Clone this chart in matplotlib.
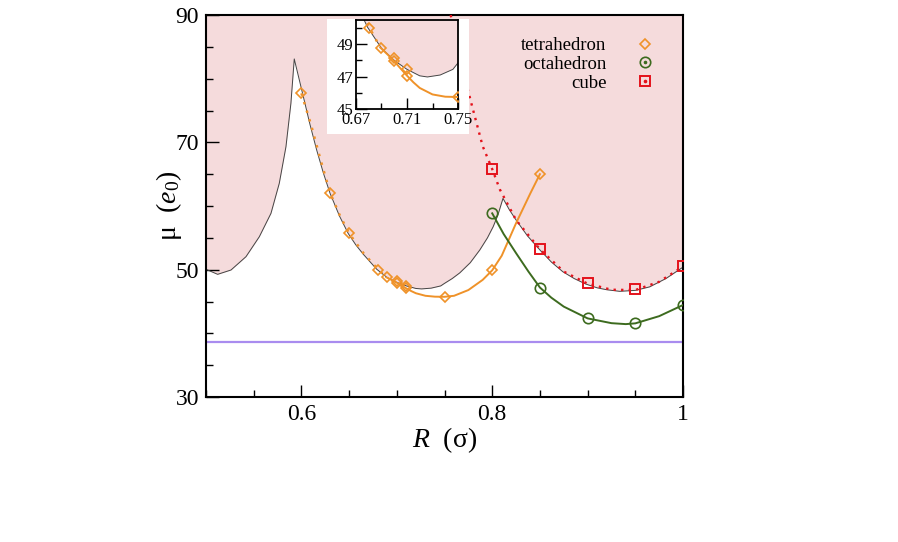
import matplotlib
matplotlib.use("Agg")
import matplotlib.pyplot as plt
from matplotlib.lines import Line2D
from matplotlib.patches import Rectangle
from matplotlib.ticker import MultipleLocator, FixedLocator, FuncFormatter

plt.rcParams["font.family"] = ["Liberation Serif", "DejaVu Serif"]
plt.rcParams["mathtext.fontset"] = "custom"
plt.rcParams["mathtext.rm"] = "Liberation Serif"
plt.rcParams["mathtext.it"] = "Liberation Serif:italic"

# boundary of the shaded region
bound_R = [0.500, 0.5122, 0.5262, 0.5419, 0.5559, 0.5681, 0.5768, 0.5838, 0.5890, 0.5925,
           0.602, 0.609, 0.616, 0.623, 0.630, 0.640, 0.649, 0.657, 0.665, 0.679,
           0.690, 0.700, 0.710, 0.720, 0.726, 0.736, 0.746, 0.750, 0.758, 0.766,
           0.777, 0.787, 0.795, 0.801, 0.806, 0.8113,
           0.818, 0.825, 0.837, 0.850, 0.862, 0.874, 0.886, 0.898, 0.910, 0.920,
           0.9335, 0.950, 0.965, 0.982, 1.000]
bound_mu = [50.06, 49.27, 49.95, 52.04, 55.18, 58.85, 63.56, 69.31, 76.13, 83.1,
            77.2, 72.8, 68.8, 65.2, 62.0, 58.4, 55.7, 53.9, 52.4, 50.06,
            48.75, 48.0, 47.45, 47.05, 46.98, 47.1, 47.45, 47.85, 48.6, 49.5,
            51.1, 53.1, 55.0, 56.75, 58.6, 61.2,
            59.4, 57.8, 55.3, 53.1, 51.2, 49.68, 48.6, 47.75, 47.15, 46.85,
            46.6, 46.75, 47.3, 48.6, 50.4]

# tetrahedron
tet_R = [0.60, 0.63, 0.65, 0.68, 0.69, 0.70, 0.70, 0.71, 0.71, 0.75, 0.80, 0.85]
tet_mu = [77.7, 62.1, 55.7, 50.0, 48.8, 48.15, 47.95, 47.45, 47.06, 45.74, 49.9, 65.0]
tet_dot_R = [0.600, 0.610, 0.620, 0.630, 0.640, 0.650, 0.665, 0.680, 0.689]
tet_dot_mu = [77.7, 72.8, 67.3, 62.1, 58.6, 55.7, 52.6, 50.1, 48.8]
tet_fit_R = [0.689, 0.695, 0.700, 0.705, 0.710, 0.715, 0.720, 0.730, 0.740, 0.750,
             0.760, 0.775, 0.790, 0.800, 0.810, 0.825, 0.840, 0.850]
tet_fit_mu = [48.8, 48.35, 47.95, 47.5, 47.06, 46.65, 46.3, 45.9, 45.76, 45.74,
              45.9, 46.8, 48.4, 49.9, 52.2, 57.3, 62.0, 65.0]

# octahedron
oct_R = [0.80, 0.85, 0.90, 0.95, 1.00]
oct_mu = [58.85, 47.2, 42.35, 41.57, 44.45]
oct_fit_R = [0.800, 0.812, 0.825, 0.838, 0.850, 0.862, 0.875, 0.900, 0.925, 0.940,
             0.950, 0.975, 1.000]
oct_fit_mu = [58.85, 55.6, 52.6, 49.7, 47.2, 45.6, 44.2, 42.35, 41.6, 41.45,
              41.57, 42.7, 44.45]

# cube
cube_R = [0.80, 0.85, 0.90, 0.95, 1.00]
cube_mu = [65.8, 53.25, 47.85, 46.96, 50.53]
cube_fit_R = [0.7565, 0.767, 0.778, 0.790, 0.800, 0.808, 0.825, 0.850, 0.875, 0.900,
              0.925, 0.950, 0.975, 1.000]
cube_fit_mu = [90.0, 82.7, 76.2, 69.4, 65.8, 62.6, 57.8, 53.2, 49.7, 47.8,
               46.85, 46.8, 48.1, 50.5]

ref_mu = 38.7

ORANGE = "#ef9229"
GREEN = "#3d6b1f"
RED = "#e4121b"
PURPLE = "#a98cef"
PINK = "#f5dbdc"


def draw_curves(ax):
    ax.fill_between(bound_R, bound_mu, 90, color=PINK, lw=0, zorder=1)
    ax.plot(bound_R, bound_mu, color="#444444", lw=0.7, zorder=2)
    ax.plot(tet_dot_R, tet_dot_mu, color=ORANGE, lw=1.8, ls=(0, (1, 2.6)), zorder=3)
    ax.plot(tet_fit_R, tet_fit_mu, color=ORANGE, lw=1.4, zorder=3)
    ax.plot(oct_fit_R, oct_fit_mu, color=GREEN, lw=1.4, zorder=3)
    ax.plot(cube_fit_R, cube_fit_mu, color=RED, lw=1.7, ls=(0, (1, 2.2)), zorder=3)
    h1, = ax.plot(tet_R, tet_mu, ls="none", marker="D", ms=5.5, mfc="none",
                  mec=ORANGE, mew=1.2, zorder=4)
    h2, = ax.plot(oct_R, oct_mu, ls="none", marker="o", ms=7.5, mfc="none",
                  mec=GREEN, mew=1.2, zorder=4)
    h3, = ax.plot(cube_R, cube_mu, ls="none", marker="s", ms=7, mfc="none",
                  mec=RED, mew=1.4, zorder=4)
    return h1, h2, h3


fig = plt.figure(figsize=(8.98, 5.42), dpi=100)
ax = fig.add_axes([0.2294, 0.2675, 0.5312, 0.7048])

h1, h2, h3 = draw_curves(ax)
ax.axhline(ref_mu, color=PURPLE, lw=1.6, zorder=2)

ax.set_xlim(0.5, 1.0)
ax.set_ylim(30, 90)
ax.xaxis.set_major_locator(MultipleLocator(0.2))
ax.xaxis.set_minor_locator(MultipleLocator(0.05))
ax.yaxis.set_major_locator(FixedLocator([30, 50, 70, 90]))
ax.yaxis.set_minor_locator(MultipleLocator(5))
ax.xaxis.set_major_formatter(FuncFormatter(lambda v, _: f"{v:g}"))
ax.tick_params(which="both", direction="in", top=False, right=False, width=1.0)
ax.tick_params(which="major", length=9, labelsize=17)
ax.tick_params(axis="x", which="major", pad=5)
ax.tick_params(axis="y", which="major", pad=5)
ax.tick_params(which="minor", length=5)
for s in ax.spines.values():
    s.set_linewidth(1.5)

ax.set_xlabel(r"$R$  (σ)", fontsize=20, labelpad=0)
ax.set_ylabel(r"μ  ($e_0$)", fontsize=20)
ax.yaxis.set_label_coords(-0.046, 0.5)

dot_o = Line2D([], [], ls="none", marker="o", ms=1.6, color=GREEN)
dot_s = Line2D([], [], ls="none", marker="o", ms=1.6, color=RED)
ax.legend([h1, (h2, dot_o), (h3, dot_s)], ["tetrahedron", "octahedron", "cube"],
          loc="upper right", bbox_to_anchor=(0.95, 0.942), frameon=False,
          markerfirst=False, fontsize=13.5, handlelength=1.5, handletextpad=1.3,
          labelspacing=0.08, borderpad=0, borderaxespad=0)

# white box behind the inset
ax.add_patch(Rectangle((327 / 898, 1 - 134 / 542), 142 / 898, 115 / 542,
                       transform=fig.transFigure, facecolor="white",
                       edgecolor="none", zorder=10))

ins = fig.add_axes([356 / 898, 1 - 109 / 542, 102 / 898, 89 / 542])
ins.set_zorder(2)
draw_curves(ins)
ins.set_xlim(0.67, 0.75)
ins.set_ylim(45, 50.5)
ins.xaxis.set_major_locator(FixedLocator([0.67, 0.71, 0.75]))
ins.xaxis.set_minor_locator(FixedLocator([0.69, 0.73]))
ins.yaxis.set_major_locator(FixedLocator([45, 47, 49]))
ins.yaxis.set_minor_locator(FixedLocator([46, 48, 50]))
ins.xaxis.set_major_formatter(FuncFormatter(lambda v, _: f"{v:g}"))
ins.tick_params(which="both", direction="in", top=False, right=False, width=1.0)
ins.tick_params(which="major", length=8, labelsize=12, pad=2)
ins.tick_params(which="minor", length=4.5)
for s in ins.spines.values():
    s.set_linewidth(1.3)

fig.savefig("out.png", dpi=100)
